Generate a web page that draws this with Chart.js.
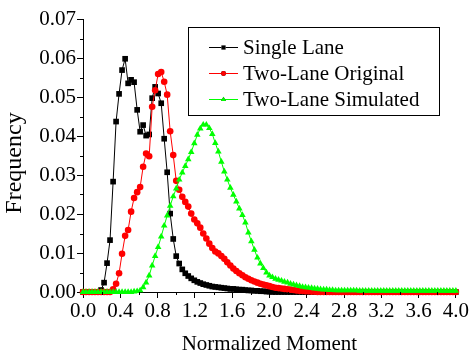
<!DOCTYPE html>
<html>
<head>
<meta charset="utf-8">
<script src="https://cdn.jsdelivr.net/npm/chart.js@4.4.0/dist/chart.umd.min.js"></script>
<style>
  html, body { margin: 0; padding: 0; background: #fff; }
</style>
</head>
<body>
<canvas id="myChart" width="470" height="352"></canvas>
<script>
// normalized moment (bin positions)
const moment = [
  0, 0.032, 0.065, 0.097, 0.129, 0.161, 0.194, 0.226, 0.258, 0.290,
  0.323, 0.355, 0.387, 0.419, 0.452, 0.484, 0.516, 0.548, 0.581, 0.613,
  0.645, 0.677, 0.710, 0.742, 0.774, 0.806, 0.839, 0.871, 0.903, 0.935,
  0.968, 1.000, 1.032, 1.065, 1.097, 1.129, 1.161, 1.194, 1.226, 1.258,
  1.290, 1.323, 1.355, 1.387, 1.419, 1.452, 1.484, 1.516, 1.548, 1.581,
  1.613, 1.645, 1.677, 1.710, 1.742, 1.774, 1.806, 1.839, 1.871, 1.903,
  1.935, 1.968, 2.000, 2.032, 2.065, 2.097, 2.129, 2.161, 2.194, 2.226,
  2.258, 2.290, 2.323, 2.355, 2.387, 2.419, 2.452, 2.484, 2.516, 2.548,
  2.581, 2.613, 2.645, 2.677, 2.710, 2.742, 2.774, 2.806, 2.839, 2.871,
  2.903, 2.935, 2.968, 3.000, 3.032, 3.065, 3.097, 3.129, 3.161, 3.194,
  3.226, 3.258, 3.290, 3.323, 3.355, 3.387, 3.419, 3.452, 3.484, 3.516,
  3.548, 3.581, 3.613, 3.645, 3.677, 3.710, 3.742, 3.774, 3.806, 3.839,
  3.871, 3.903, 3.935, 3.968, 4.000
];

const singleLane = [
  0, 0, 0, 0, 0, 0, 0.0005, 0.0024, 0.0074, 0.0133,
  0.0283, 0.0437, 0.0508, 0.0569, 0.0598, 0.0535, 0.0544, 0.0538, 0.0467, 0.0411,
  0.0428, 0.0401, 0.0404, 0.0497, 0.0526, 0.0509, 0.0484, 0.0393, 0.0307, 0.0201,
  0.0136, 0.0092, 0.0073, 0.0058, 0.0048, 0.0041, 0.0035, 0.0030, 0.0026, 0.0023,
  0.0020, 0.0018, 0.0016, 0.0014, 0.0013, 0.0012, 0.0011, 0.0010, 0.0009, 0.0008,
  0.0008, 0.0007, 0.0006, 0.0006, 0.0005, 0.0004, 0.0004, 0.0003, 0.0003, 0.0002,
  0.0002, 0.0001, 0.0001, 0, 0, 0, 0, 0, 0, 0,
  0, 0, 0, 0, 0, 0, 0, 0, 0, 0,
  0, 0, 0, 0, 0, 0, 0, 0, 0, 0,
  0, 0, 0, 0, 0, 0, 0, 0, 0, 0,
  0, 0, 0, 0, 0, 0, 0, 0, 0, 0,
  0, 0, 0, 0, 0, 0, 0, 0, 0, 0,
  0, 0, 0, 0, 0
];

const twoLaneOriginal = [
  0, 0, 0, 0, 0, 0, 0, 0, 0, 0,
  0.0007, 0.0021, 0.0048, 0.0098, 0.0144, 0.0159, 0.0206, 0.0241, 0.0256, 0.0269,
  0.0321, 0.0355, 0.0348, 0.0475, 0.0517, 0.0559, 0.0564, 0.0539, 0.0506, 0.0412,
  0.0351, 0.0285, 0.0262, 0.0244, 0.0231, 0.0219, 0.0201, 0.0186, 0.0176, 0.0165,
  0.0150, 0.0137, 0.0124, 0.0113, 0.0104, 0.0099, 0.0092, 0.0085, 0.0076, 0.0068,
  0.0060, 0.0054, 0.0048, 0.0043, 0.0038, 0.0034, 0.0030, 0.0027, 0.0024, 0.0021,
  0.0019, 0.0017, 0.0015, 0.0013, 0.0011, 0.0010, 0.0009, 0.0008, 0.0007, 0.0006,
  0.0005, 0.0004, 0.0003, 0.0003, 0.0002, 0.0002, 0.0001, 0.0001, 0, 0,
  0, 0, 0, 0, 0, 0, 0, 0, 0, 0,
  0, 0, 0, 0, 0, 0, 0, 0, 0, 0,
  0, 0, 0, 0, 0, 0, 0, 0, 0, 0,
  0, 0, 0, 0, 0, 0, 0, 0, 0, 0,
  0, 0, 0, 0, 0
];

const twoLaneSimulated = [
  0, 0, 0, 0, 0, 0, 0, 0, 0, 0,
  0, 0, 0, 0, 0, 0, 0, 0.0001, 0.0002, 0.0004,
  0.0012, 0.0024, 0.0042, 0.0068, 0.0092, 0.0115, 0.0142, 0.0170, 0.0196, 0.0221,
  0.0245, 0.0265, 0.0288, 0.0306, 0.0323, 0.0340, 0.0359, 0.0381, 0.0403, 0.0419,
  0.0429, 0.0429, 0.0420, 0.0405, 0.0382, 0.0360, 0.0334, 0.0309, 0.0288, 0.0267,
  0.0249, 0.0232, 0.0214, 0.0197, 0.0178, 0.0152, 0.0130, 0.0108, 0.0088, 0.0073,
  0.0061, 0.0050, 0.0042, 0.0038, 0.0034, 0.0031, 0.0029, 0.0026, 0.0024, 0.0021,
  0.0019, 0.0017, 0.0015, 0.0013, 0.0012, 0.0011, 0.0010, 0.0009, 0.0008, 0.0007,
  0.0006, 0.0006, 0.0005, 0.0005, 0.0004, 0.0004, 0.0004, 0.0004, 0.0004, 0.0004,
  0.0004, 0.0004, 0.0003, 0.0003, 0.0003, 0.0003, 0.0003, 0.0003, 0.0003, 0.0003,
  0.0003, 0.0003, 0.0003, 0.0003, 0.0003, 0.0003, 0.0003, 0.0003, 0.0003, 0.0003,
  0.0003, 0.0003, 0.0003, 0.0003, 0.0003, 0.0003, 0.0003, 0.0003, 0.0003, 0.0003,
  0.0003, 0.0003, 0.0003, 0.0003, 0.0003
];

const seriesNames = ['Single Lane', 'Two-Lane Original', 'Two-Lane Simulated'];

// axis ticks
const xTicks = [0, 0.4, 0.8, 1.2, 1.6, 2.0, 2.4, 2.8, 3.2, 3.6, 4.0];
const xMinorTicks = [0.2, 0.6, 1.0, 1.4, 1.8, 2.2, 2.6, 3.0, 3.4, 3.8];
const yTicks = [0, 0.01, 0.02, 0.03, 0.04, 0.05, 0.06, 0.07];
const yMinorTicks = [0.005, 0.015, 0.025, 0.035, 0.045, 0.055, 0.065];

const serif = 'Liberation Serif';

function points(values) {
  return moment.map((m, i) => ({ x: m, y: values[i] }));
}

// small outward minor ticks on both axes, plus the y axis title
const minorTicks = {
  id: 'minorTicks',
  afterDraw(chart) {
    const { ctx } = chart;
    const x = chart.scales.x, y = chart.scales.y;
    ctx.save();
    ctx.strokeStyle = '#000';
    ctx.lineWidth = 1;
    ctx.beginPath();
    xMinorTicks.forEach(v => {
      const px = Math.round(x.getPixelForValue(v)) + 0.5;
      ctx.moveTo(px, y.bottom);
      ctx.lineTo(px, y.bottom + 3);
    });
    yMinorTicks.forEach(v => {
      const py = Math.round(y.getPixelForValue(v)) + 0.5;
      ctx.moveTo(x.left - 3, py);
      ctx.lineTo(x.left, py);
    });
    ctx.stroke();

    // y title, a bit lower than the axis middle as in the original
    ctx.translate(15, 163);
    ctx.rotate(-Math.PI / 2);
    ctx.fillStyle = '#000';
    ctx.font = '24px "' + serif + '"';
    ctx.textAlign = 'center';
    ctx.textBaseline = 'middle';
    ctx.fillText('Frequency', 0, 0);
    ctx.restore();
  }
};

// boxed legend inside the plot, like the original figure
const boxLegend = {
  id: 'boxLegend',
  afterDraw(chart) {
    const { ctx } = chart;
    const left = 188, top = 27, w = 251, h = 88;
    ctx.save();
    ctx.fillStyle = '#fff';
    ctx.fillRect(left, top, w, h);
    ctx.strokeStyle = '#000';
    ctx.lineWidth = 1;
    ctx.strokeRect(left + 0.5, top + 0.5, w, h);
    chart.data.datasets.forEach((ds, i) => {
      const cy = top + 20 + i * 26;
      ctx.strokeStyle = ds.borderColor;
      ctx.beginPath();
      ctx.moveTo(209, cy + 0.5);
      ctx.lineTo(238, cy + 0.5);
      ctx.stroke();
      Chart.helpers.drawPoint(ctx, {
        pointStyle: ds.pointStyle, radius: ds.pointRadius * 0.75,
        borderWidth: 0, rotation: 0
      }, 223.5, cy + 0.5);
      ctx.fillStyle = ds.backgroundColor;
      ctx.fill();
      ctx.fillStyle = '#000';
      ctx.font = '21px "' + serif + '"';
      ctx.textBaseline = 'middle';
      ctx.textAlign = 'left';
      ctx.fillText(ds.label, 243, cy + 1);
    });
    ctx.restore();
  }
};

const ctx = document.getElementById('myChart');

new Chart(ctx, {
  type: 'line',
  data: {
    datasets: [
      {
        label: seriesNames[0],
        data: points(singleLane),
        borderColor: '#000000',
        backgroundColor: '#000000',
        borderWidth: 1,
        pointStyle: 'rect',
        pointRadius: 4,
        pointBorderWidth: 0,
        order: 3,
        clip: false
      },
      {
        label: seriesNames[1],
        data: points(twoLaneOriginal),
        borderColor: '#ff0000',
        backgroundColor: '#ff0000',
        borderWidth: 1,
        pointStyle: 'circle',
        pointRadius: 3.3,
        pointBorderWidth: 0,
        order: 2,
        clip: false
      },
      {
        label: seriesNames[2],
        data: points(twoLaneSimulated),
        borderColor: '#00ff00',
        backgroundColor: '#00ff00',
        borderWidth: 1,
        pointStyle: 'triangle',
        pointRadius: 3.8,
        pointBorderWidth: 0,
        order: 1,
        clip: false
      }
    ]
  },
  options: {
    responsive: false,
    animation: false,
    devicePixelRatio: 1,
    layout: { padding: { top: 19, right: 14, left: 0, bottom: 0 } },
    plugins: {
      legend: { display: false },
      tooltip: { enabled: false }
    },
    scales: {
      x: {
        type: 'linear',
        min: 0,
        max: 4,
        afterBuildTicks: s => { s.ticks = xTicks.map(v => ({ value: v })); },
        afterFit: s => { s.height = 60; },
        ticks: {
          callback: v => v.toFixed(1),
          color: '#000',
          font: { family: serif, size: 21 },
          maxRotation: 0,
          padding: 1
        },
        grid: { drawOnChartArea: false, tickLength: 6, color: '#000' },
        border: { color: '#000', width: 1 },
        title: {
          display: true,
          text: 'Normalized Moment',
          color: '#000',
          font: { family: serif, size: 21, lineHeight: 0.76 },
          padding: { top: 0, bottom: 0 }
        }
      },
      y: {
        type: 'linear',
        min: 0,
        max: 0.07,
        afterBuildTicks: s => { s.ticks = yTicks.map(v => ({ value: v })); },
        afterFit: s => { s.width = 83; },
        ticks: {
          callback: v => v.toFixed(2),
          color: '#000',
          font: { family: serif, size: 21 },
          padding: 1
        },
        grid: { drawOnChartArea: false, tickLength: 6, color: '#000' },
        border: { color: '#000', width: 1 }
      }
    }
  },
  plugins: [minorTicks, boxLegend]
});
</script>
</body>
</html>
